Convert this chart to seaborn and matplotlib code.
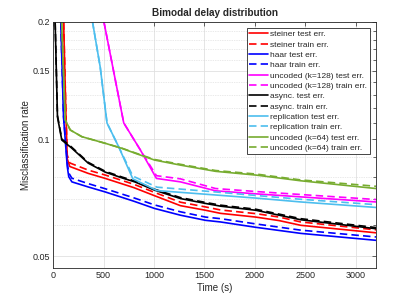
import numpy as np
import pandas as pd
import seaborn as sns
import matplotlib.pyplot as plt
from matplotlib.ticker import FixedLocator, NullFormatter

# Values (time in s, misclassification rate)
steiner_t = [95, 125, 140, 165, 348, 517, 800, 1005, 1262, 1510, 1660, 2008, 2240, 2455, 3200]
steiner_test = [0.25, 0.12, 0.089, 0.085, 0.0816, 0.0792, 0.075, 0.0715, 0.0674, 0.0656, 0.0644, 0.063, 0.0617, 0.060, 0.0574]
steiner_train = [0.25, 0.122, 0.091, 0.0868, 0.0832, 0.0808, 0.0765, 0.0729, 0.0688, 0.0669, 0.0657, 0.0643, 0.063, 0.0612, 0.0584]

haar_t = [65, 76, 103, 140, 155, 186, 348, 517, 800, 1005, 1262, 1510, 1660, 2008, 2455, 3200]
haar_test = [0.3, 0.2, 0.114, 0.085, 0.080, 0.0776, 0.0753, 0.0731, 0.0692, 0.0663, 0.0637, 0.0618, 0.0612, 0.0593, 0.0572, 0.0549]
haar_train = [0.3, 0.2, 0.115, 0.087, 0.0818, 0.0793, 0.0768, 0.0745, 0.0706, 0.0677, 0.065, 0.063, 0.0624, 0.0605, 0.0583, 0.056]

unc128_t = [480, 700, 865, 1024, 1262, 1610, 2008, 2455, 3200]
unc128_test = [0.215, 0.110, 0.0937, 0.0792, 0.0776, 0.0736, 0.0723, 0.071, 0.0689]
unc128_train = [0.215, 0.110, 0.0937, 0.0805, 0.079, 0.0746, 0.0733, 0.072, 0.0699]

async_t = [5, 20, 43, 86, 180, 348, 517, 686, 815, 1005, 1262, 1510, 1660, 2008, 2455, 3200]
async_test = [0.3, 0.2, 0.114, 0.0994, 0.095, 0.0867, 0.0822, 0.0794, 0.0775, 0.0739, 0.0703, 0.0683, 0.0672, 0.0656, 0.062, 0.0588]
async_train = [0.3, 0.2, 0.115, 0.1, 0.0955, 0.0871, 0.0826, 0.0798, 0.0779, 0.0743, 0.0707, 0.0687, 0.0676, 0.066, 0.0624, 0.0592]

repl_t = [370, 467, 534, 650, 790, 1030, 1610, 2008, 2455, 3200]
repl_test = [0.215, 0.153, 0.110, 0.0955, 0.079, 0.0737, 0.0718, 0.0705, 0.0689, 0.0667]
repl_train = [0.215, 0.153, 0.110, 0.0955, 0.0803, 0.0752, 0.0731, 0.0716, 0.07, 0.0678]

unc64_t = [70, 86, 120, 170, 285, 517, 683, 815, 1005, 1262, 1610, 2008, 2455, 3200]
unc64_test = [0.25, 0.195, 0.112, 0.1055, 0.1014, 0.0975, 0.0946, 0.0919, 0.0883, 0.0857, 0.0826, 0.0808, 0.0781, 0.0746]
unc64_train = [0.25, 0.195, 0.112, 0.1055, 0.1014, 0.0975, 0.0947, 0.0921, 0.0886, 0.0861, 0.083, 0.0813, 0.0785, 0.0756]

names = ["steiner", "haar", "uncoded (k=128)", "async.", "replication", "uncoded (k=64)"]
colors = ["#ff0000", "#0000ff", "#ff00ff", "#000000", "#4dbeee", "#77ac30"]
times = [steiner_t, haar_t, unc128_t, async_t, repl_t, unc64_t]
tests = [steiner_test, haar_test, unc128_test, async_test, repl_test, unc64_test]
trains = [steiner_train, haar_train, unc128_train, async_train, repl_train, unc64_train]

sns.set_style("white")
plt.rcParams['font.family'] = ['Liberation Sans', 'DejaVu Sans']

fig = plt.figure(figsize=(4.15, 3.02), dpi=100)
ax = fig.add_axes([0.128, 0.1126, 0.778, 0.8146])

dash = (0, (4.5, 2.5))
for name, c, t, te, tr in zip(names, colors, times, tests, trains):
    sns.lineplot(x=t, y=te, ax=ax, color=c, lw=1.2, label=f"{name} test err.")
    sns.lineplot(x=t, y=tr, ax=ax, color=c, lw=1.2, linestyle=dash,
                 label=f"{name} train err.")

ax.set_yscale('log')
ax.set_xlim(0, 3200)
ax.set_ylim(0.0466, 0.2)
ax.set_xticks([0, 500, 1000, 1500, 2000, 2500, 3000])
ax.yaxis.set_major_locator(FixedLocator([0.05, 0.1, 0.15, 0.2]))
ax.set_yticklabels(["0.05", "0.1", "0.15", "0.2"])
ax.yaxis.set_minor_locator(FixedLocator([0.06, 0.07, 0.08, 0.09] + [0.11 + 0.01 * i for i in range(9)]))
ax.yaxis.set_minor_formatter(NullFormatter())

ax.grid(True, which='major', color='#e0e0e0', lw=0.6)
ax.grid(True, which='minor', axis='y', color='#d4d4d4', lw=0.5, linestyle=(0, (1, 1.5)))
ax.tick_params(which='both', direction='in', top=True, right=True, labelsize=6.5,
               colors='#262626', length=3, width=0.5, pad=2.5)
ax.tick_params(which='minor', length=2)
for s in ax.spines.values():
    s.set_color('#262626')
    s.set_linewidth(0.6)

ax.set_xlabel("Time (s)", fontsize=7, color='#262626', labelpad=2)
ax.set_ylabel("Misclassification rate", fontsize=7, color='#262626', labelpad=1)
ax.set_title("Bimodal delay distribution", fontsize=7.2, fontweight='bold', pad=4)

leg = ax.legend(loc='upper right', bbox_to_anchor=(0.981, 0.976), borderaxespad=0,
                fontsize=6, labelspacing=0.3, handlelength=2.3, handletextpad=0.25,
                borderpad=0.3, frameon=True, fancybox=False, framealpha=1)
leg.get_frame().set_edgecolor('#262626')
leg.get_frame().set_linewidth(0.6)

fig.savefig("out.png", dpi=100)
